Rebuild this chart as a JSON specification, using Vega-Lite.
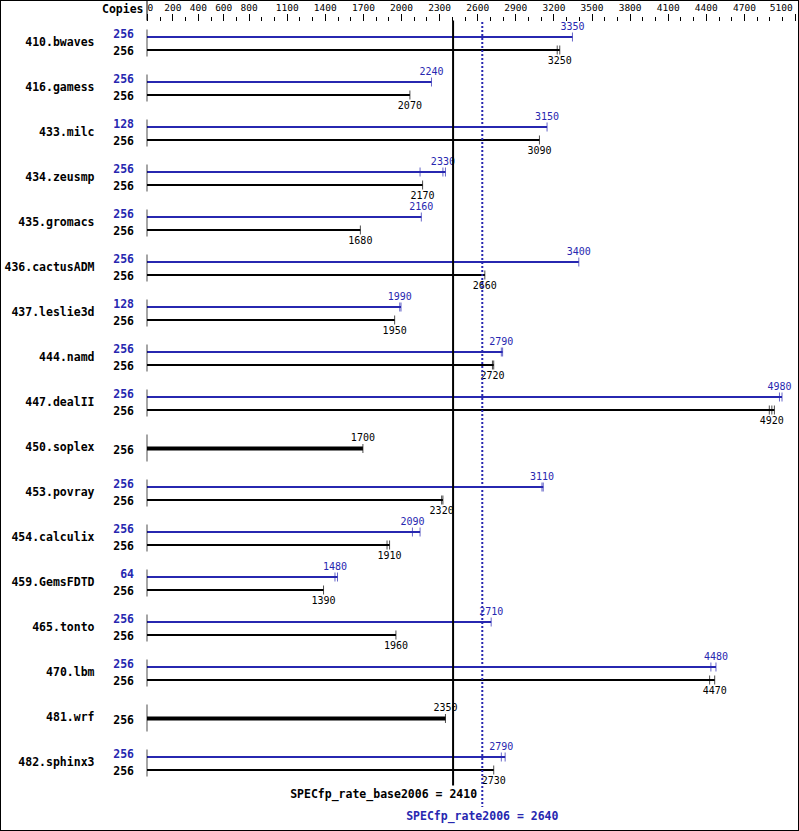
{
  "$schema": "https://vega.github.io/schema/vega-lite/v6.json",
  "width": 799,
  "height": 831,
  "autosize": {"type": "none"},
  "padding": 0,
  "background": "white",
  "config": {
    "view": {"stroke": "black", "strokeWidth": 2},
    "text": {"font": "DejaVu Sans Mono"}
  },
  "resolve": {"axis": {"x": "independent", "y": "independent"}},
  "datasets": {
    "bars": [
      {"bench": "410.bwaves", "slot": "peak", "copies": 256, "value": 3350, "max": 3350, "runs": [3350]},
      {"bench": "410.bwaves", "slot": "base", "copies": 256, "value": 3250, "max": 3250, "runs": [3230, 3250]},
      {"bench": "416.gamess", "slot": "peak", "copies": 256, "value": 2240, "max": 2240, "runs": [2240]},
      {"bench": "416.gamess", "slot": "base", "copies": 256, "value": 2070, "max": 2070, "runs": [2070]},
      {"bench": "433.milc", "slot": "peak", "copies": 128, "value": 3150, "max": 3150, "runs": [3150]},
      {"bench": "433.milc", "slot": "base", "copies": 256, "value": 3090, "max": 3090, "runs": [3090]},
      {"bench": "434.zeusmp", "slot": "peak", "copies": 256, "value": 2330, "max": 2350, "runs": [2150, 2330, 2350]},
      {"bench": "434.zeusmp", "slot": "base", "copies": 256, "value": 2170, "max": 2170, "runs": [2170]},
      {"bench": "435.gromacs", "slot": "peak", "copies": 256, "value": 2160, "max": 2160, "runs": [2160]},
      {"bench": "435.gromacs", "slot": "base", "copies": 256, "value": 1680, "max": 1680, "runs": [1680]},
      {"bench": "436.cactusADM", "slot": "peak", "copies": 256, "value": 3400, "max": 3400, "runs": [3400]},
      {"bench": "436.cactusADM", "slot": "base", "copies": 256, "value": 2660, "max": 2660, "runs": [2660]},
      {"bench": "437.leslie3d", "slot": "peak", "copies": 128, "value": 1990, "max": 2000, "runs": [1990, 2000]},
      {"bench": "437.leslie3d", "slot": "base", "copies": 256, "value": 1950, "max": 1950, "runs": [1950]},
      {"bench": "444.namd", "slot": "peak", "copies": 256, "value": 2790, "max": 2800, "runs": [2790, 2800]},
      {"bench": "444.namd", "slot": "base", "copies": 256, "value": 2720, "max": 2730, "runs": [2720, 2730]},
      {"bench": "447.dealII", "slot": "peak", "copies": 256, "value": 4980, "max": 5000, "runs": [4980, 5000]},
      {"bench": "447.dealII", "slot": "base", "copies": 256, "value": 4920, "max": 4940, "runs": [4900, 4920, 4940]},
      {"bench": "450.soplex", "slot": "single", "copies": 256, "value": 1700, "max": 1700, "runs": [1700]},
      {"bench": "453.povray", "slot": "peak", "copies": 256, "value": 3110, "max": 3120, "runs": [3110, 3120]},
      {"bench": "453.povray", "slot": "base", "copies": 256, "value": 2320, "max": 2330, "runs": [2320, 2330]},
      {"bench": "454.calculix", "slot": "peak", "copies": 256, "value": 2090, "max": 2150, "runs": [2090, 2150]},
      {"bench": "454.calculix", "slot": "base", "copies": 256, "value": 1910, "max": 1910, "runs": [1890, 1910]},
      {"bench": "459.GemsFDTD", "slot": "peak", "copies": 64, "value": 1480, "max": 1500, "runs": [1480, 1500]},
      {"bench": "459.GemsFDTD", "slot": "base", "copies": 256, "value": 1390, "max": 1390, "runs": [1390]},
      {"bench": "465.tonto", "slot": "peak", "copies": 256, "value": 2710, "max": 2710, "runs": [2710]},
      {"bench": "465.tonto", "slot": "base", "copies": 256, "value": 1960, "max": 1960, "runs": [1960]},
      {"bench": "470.lbm", "slot": "peak", "copies": 256, "value": 4480, "max": 4480, "runs": [4440, 4480]},
      {"bench": "470.lbm", "slot": "base", "copies": 256, "value": 4470, "max": 4470, "runs": [4430, 4470]},
      {"bench": "481.wrf", "slot": "single", "copies": 256, "value": 2350, "max": 2350, "runs": [2350]},
      {"bench": "482.sphinx3", "slot": "peak", "copies": 256, "value": 2790, "max": 2820, "runs": [2790, 2820]},
      {"bench": "482.sphinx3", "slot": "base", "copies": 256, "value": 2730, "max": 2730, "runs": [2730]}
    ],
    "summary": [
      {"metric": "SPECfp_rate_base2006 = 2410", "score": 2410, "kind": "base", "top": "410.bwaves", "bottom": "482.sphinx3"},
      {"metric": "SPECfp_rate2006 = 2640", "score": 2640, "kind": "peak", "top": "410.bwaves", "bottom": "482.sphinx3"}
    ]
  },
  "layer": [
    {
      "data": {"name": "bars"},
      "transform": [{"filter": "datum.slot != 'single'"}],
      "mark": {"type": "rule", "strokeWidth": 2},
      "encoding": {
        "x": {
          "field": "max", "type": "quantitative",
          "scale": {"domain": [-1157.5, 5133.8], "nice": false, "zero": false},
          "axis": {
            "orient": "top", "offset": -20.5, "domain": false, "grid": false,
            "values": [0,100,200,300,400,500,600,700,800,900,1000,1100,1200,1300,1400,1500,1600,1700,1800,1900,2000,2100,2200,2300,2400,2500,2600,2700,2800,2900,3000,3100,3200,3300,3400,3500,3600,3700,3800,3900,4000,4100,4200,4300,4400,4500,4600,4700,4800,4900,5000,5100],
            "labelExpr": "indexof([0,200,400,600,800,1100,1400,1700,2000,2300,2600,2900,3200,3500,3800,4100,4400,4700,5100], datum.value) >= 0 ? datum.label : ''",
            "format": "d",
            "labelOverlap": false,
            "labelFont": "DejaVu Sans Mono", "labelFontSize": 9.5, "labelColor": "black",
            "labelPadding": 1,
            "labelAlign": {"condition": {"test": "datum.value == 0", "value": "left"}, "value": "center"},
            "labelOffset": {"condition": {"test": "datum.value == 5100", "value": -14}, "value": 0},
            "ticks": true,
            "tickColor": "black", "tickWidth": 1,
            "tickSize": {"condition": {"test": "indexof([0,200,400,600,800,1100,1400,1700,2000,2300,2600,2900,3200,3500,3800,4100,4400,4700,5100], datum.value) >= 0", "value": 7}, "value": 4},
            "title": "Copies", "titleFont": "DejaVu Sans Mono", "titleFontWeight": "bold", "titleFontSize": 11.5, "titleColor": "black",
            "titleX": 143, "titleY": -11.5, "titleAlign": "right", "titleBaseline": "middle", "titleAngle": 0
          }
        },
        "x2": {"datum": 0},
        "y": {
          "field": "bench", "type": "nominal",
          "scale": {"type": "band", "domain": ["410.bwaves","416.gamess","433.milc","434.zeusmp","435.gromacs","436.cactusADM","437.leslie3d","444.namd","447.dealII","450.soplex","453.povray","454.calculix","459.GemsFDTD","465.tonto","470.lbm","481.wrf","482.sphinx3"], "paddingInner": 0, "paddingOuter": 0.7333, "align": 0.3106},
          "axis": {"orient": "left", "offset": -94, "domain": false, "ticks": false, "grid": false, "labelPadding": 0, "labelFont": "DejaVu Sans Mono", "labelFontWeight": "bold", "labelFontSize": 11.5, "labelColor": "black", "labelLimit": 200, "title": null}
        },
        "yOffset": {"field": "slot", "type": "nominal", "scale": {"type": "band", "domain": ["peak", "single", "base"], "paddingInner": 0, "paddingOuter": 0, "range": [13.25, 32.75]}},
        "color": {"field": "slot", "type": "nominal", "scale": {"domain": ["peak", "single", "base"], "range": ["#2727b0", "black", "black"]}, "legend": null}
      }
    },
    {
      "data": {"name": "bars"},
      "transform": [{"filter": "datum.slot == 'single'"}],
      "mark": {"type": "rule", "strokeWidth": 4, "color": "black"},
      "encoding": {
        "x": {"field": "max", "type": "quantitative", "axis": null},
        "x2": {"datum": 0},
        "y": {"field": "bench", "type": "nominal", "axis": null},
        "yOffset": {"field": "slot", "type": "nominal"}
      }
    },
    {
      "data": {"name": "bars"},
      "transform": [{"filter": "datum.bench == '410.bwaves' && datum.slot == 'base'"}],
      "mark": {"type": "rule", "strokeWidth": 1, "color": "black", "yOffset": -43, "y2Offset": -22.5},
      "encoding": {
        "x": {"datum": 0, "type": "quantitative", "axis": null},
        "y": {"field": "bench", "type": "nominal", "axis": null},
        "y2": {"field": "bench"}
      }
    },
    {
      "data": {"name": "bars"},
      "transform": [{"flatten": ["runs"], "as": ["run"]}],
      "mark": {"type": "tick", "orient": "vertical", "thickness": 1, "size": 9},
      "encoding": {
        "x": {"field": "run", "type": "quantitative", "axis": null},
        "y": {"field": "bench", "type": "nominal", "axis": null},
        "yOffset": {"field": "slot", "type": "nominal"},
        "color": {"field": "slot", "type": "nominal", "legend": null}
      }
    },
    {
      "data": {"name": "bars"},
      "transform": [{"filter": "datum.slot != 'peak'"}],
      "mark": {"type": "tick", "orient": "vertical", "thickness": 1, "size": 27, "color": "black"},
      "encoding": {
        "x": {"datum": 0, "type": "quantitative", "axis": null},
        "y": {"field": "bench", "type": "nominal", "axis": null}
      }
    },
    {
      "data": {"name": "bars"},
      "transform": [{"filter": "datum.slot == 'peak'"}],
      "mark": {"type": "text", "align": "right", "baseline": "middle", "dx": -13, "dy": -2, "fontWeight": "bold", "fontSize": 11.5},
      "encoding": {
        "x": {"datum": 0, "type": "quantitative", "axis": null},
        "y": {"field": "bench", "type": "nominal", "axis": null},
        "yOffset": {"field": "slot", "type": "nominal"},
        "text": {"field": "copies"},
        "color": {"field": "slot", "type": "nominal", "legend": null}
      }
    },
    {
      "data": {"name": "bars"},
      "transform": [{"filter": "datum.slot != 'peak'"}],
      "mark": {"type": "text", "align": "right", "baseline": "middle", "dx": -13, "dy": 2, "fontWeight": "bold", "fontSize": 11.5},
      "encoding": {
        "x": {"datum": 0, "type": "quantitative", "axis": null},
        "y": {"field": "bench", "type": "nominal", "axis": null},
        "yOffset": {"field": "slot", "type": "nominal"},
        "text": {"field": "copies"},
        "color": {"field": "slot", "type": "nominal", "legend": null}
      }
    },
    {
      "data": {"name": "bars"},
      "transform": [{"filter": "datum.slot == 'peak'"}],
      "mark": {"type": "text", "align": "center", "baseline": "middle", "dy": -10, "fontSize": 10},
      "encoding": {
        "x": {"field": "value", "type": "quantitative", "axis": null},
        "y": {"field": "bench", "type": "nominal", "axis": null},
        "yOffset": {"field": "slot", "type": "nominal"},
        "text": {"field": "value"},
        "color": {"field": "slot", "type": "nominal", "legend": null}
      }
    },
    {
      "data": {"name": "bars"},
      "transform": [{"filter": "datum.slot == 'base'"}],
      "mark": {"type": "text", "align": "center", "baseline": "middle", "dy": 11, "fontSize": 10},
      "encoding": {
        "x": {"field": "value", "type": "quantitative", "axis": null},
        "y": {"field": "bench", "type": "nominal", "axis": null},
        "yOffset": {"field": "slot", "type": "nominal"},
        "text": {"field": "value"},
        "color": {"field": "slot", "type": "nominal", "legend": null}
      }
    },
    {
      "data": {"name": "bars"},
      "transform": [{"filter": "datum.slot == 'single'"}],
      "mark": {"type": "text", "align": "center", "baseline": "middle", "dy": -11, "fontSize": 10},
      "encoding": {
        "x": {"field": "value", "type": "quantitative", "axis": null},
        "y": {"field": "bench", "type": "nominal", "axis": null},
        "yOffset": {"field": "slot", "type": "nominal"},
        "text": {"field": "value"},
        "color": {"field": "slot", "type": "nominal", "legend": null}
      }
    },
    {
      "data": {"name": "summary"},
      "transform": [{"filter": "datum.kind == 'base'"}],
      "mark": {"type": "rule", "strokeWidth": 2, "color": "black", "yOffset": -22.5, "y2Offset": 22.5},
      "encoding": {
        "x": {"field": "score", "type": "quantitative", "axis": null},
        "y": {"field": "top", "type": "nominal", "axis": null},
        "y2": {"field": "bottom"}
      }
    },
    {
      "data": {"name": "summary"},
      "transform": [{"filter": "datum.kind == 'peak'"}],
      "mark": {"type": "rule", "strokeWidth": 2, "color": "#2727b0", "strokeDash": [2, 2], "yOffset": -21, "y2Offset": 44},
      "encoding": {
        "x": {"field": "score", "type": "quantitative", "axis": null},
        "y": {"field": "top", "type": "nominal", "axis": null},
        "y2": {"field": "bottom"}
      }
    },
    {
      "data": {"name": "summary"},
      "transform": [{"filter": "datum.kind == 'base'"}],
      "mark": {"type": "text", "align": "right", "baseline": "middle", "dx": 24, "dy": 32, "fontWeight": "bold", "fontSize": 11.5, "color": "black"},
      "encoding": {
        "x": {"field": "score", "type": "quantitative", "axis": null},
        "y": {"field": "bottom", "type": "nominal", "axis": null},
        "text": {"field": "metric"}
      }
    },
    {
      "data": {"name": "summary"},
      "transform": [{"filter": "datum.kind == 'peak'"}],
      "mark": {"type": "text", "align": "center", "baseline": "middle", "dy": 54, "fontWeight": "bold", "fontSize": 11.5, "color": "#2727b0"},
      "encoding": {
        "x": {"field": "score", "type": "quantitative", "axis": null},
        "y": {"field": "bottom", "type": "nominal", "axis": null},
        "text": {"field": "metric"}
      }
    }
  ]
}
